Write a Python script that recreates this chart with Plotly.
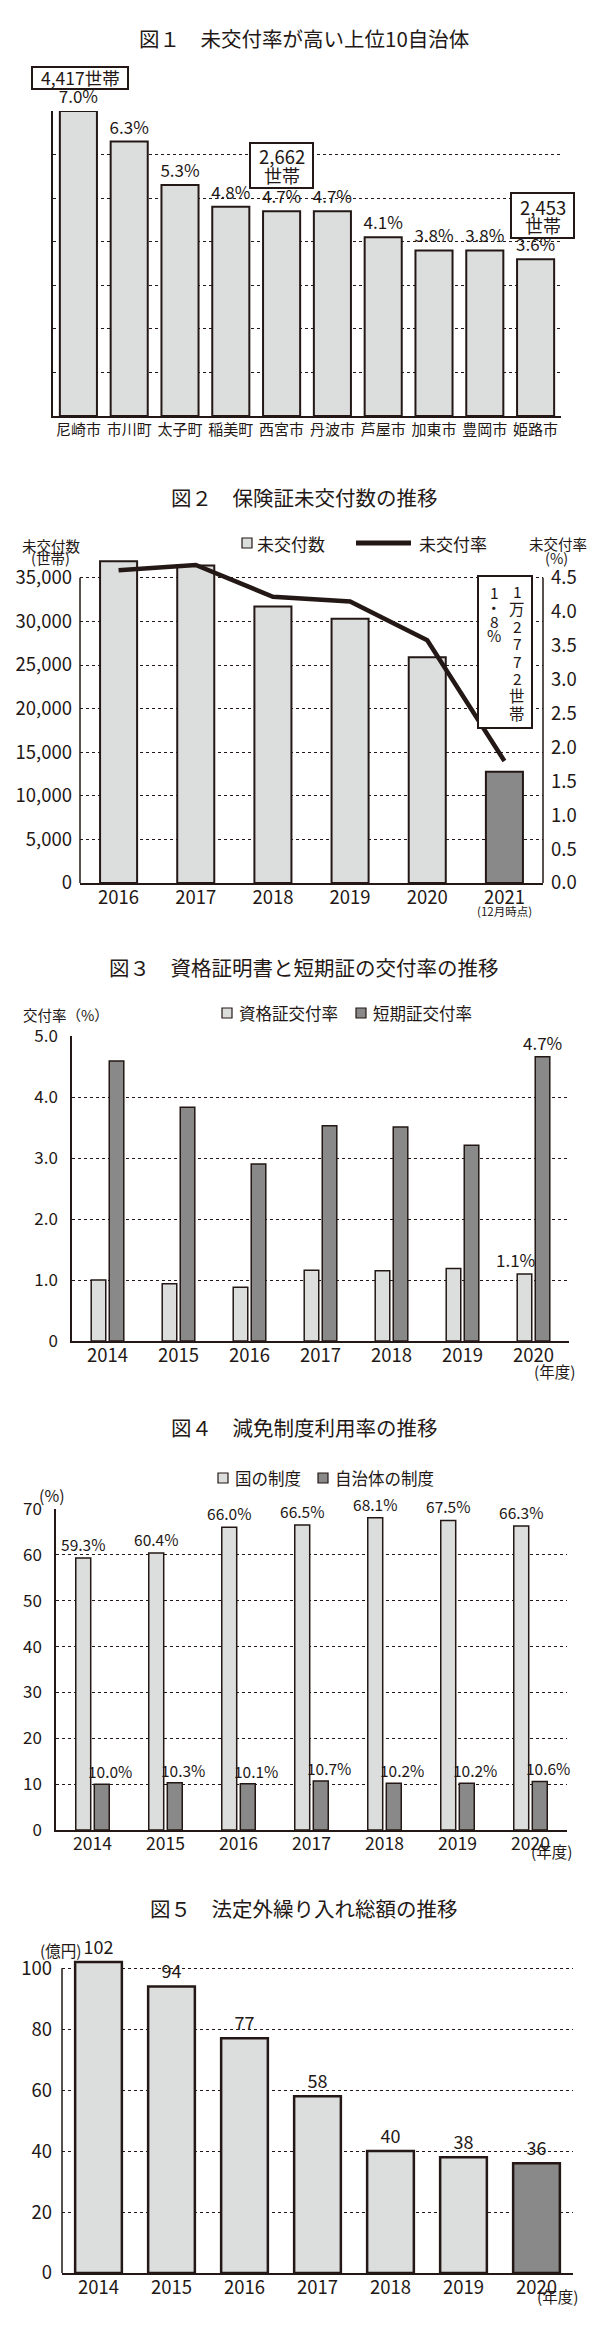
import plotly.graph_objects as go

# page geometry (the browser adds an 8px body margin around the plot div)
PAGE_W, PAGE_H, BODY = 600, 2347, 8
W, H = PAGE_W - 2 * BODY, PAGE_H - 2 * BODY
INK = "#231815"
LIGHT = "#dcdddd"
DARK = "#898989"
FONT = "Noto Sans CJK JP"

# ---------------- data ----------------
titles = [
    "図１　未交付率が高い上位10自治体",
    "図２　保険証未交付数の推移",
    "図３　資格証明書と短期証の交付率の推移",
    "図４　減免制度利用率の推移",
    "図５　法定外繰り入れ総額の推移",
]

c1_cities = ["尼崎市", "市川町", "太子町", "稲美町", "西宮市", "丹波市", "芦屋市", "加東市", "豊岡市", "姫路市"]
c1_rate = [7.0, 6.3, 5.3, 4.8, 4.7, 4.7, 4.1, 3.8, 3.8, 3.6]
c1_callout_cities = ["尼崎市", "西宮市", "姫路市"]
c1_callout_households = [4417, 2662, 2453]

c2_years = ["2016", "2017", "2018", "2019", "2020", "2021"]
c2_unissued = [36900, 36400, 31700, 30300, 25900, 12772]
c2_rate = [4.61, 4.69, 4.22, 4.15, 3.58, 1.8]
c2_left_ticks = [0, 5000, 10000, 15000, 20000, 25000, 30000, 35000]
c2_right_ticks = [0.0, 0.5, 1.0, 1.5, 2.0, 2.5, 3.0, 3.5, 4.0, 4.5]
c2_series = ["未交付数", "未交付率"]

c3_years = ["2014", "2015", "2016", "2017", "2018", "2019", "2020"]
c3_shikaku = [1.0, 0.94, 0.88, 1.16, 1.15, 1.19, 1.1]
c3_tanki = [4.59, 3.83, 2.90, 3.53, 3.51, 3.21, 4.66]
c3_ticks = [0, 1, 2, 3, 4, 5]
c3_ticktext = ["0", "1.0", "2.0", "3.0", "4.0", "5.0"]
c3_series = ["資格証交付率", "短期証交付率"]

c4_years = ["2014", "2015", "2016", "2017", "2018", "2019", "2020"]
c4_kuni = [59.3, 60.4, 66.0, 66.5, 68.1, 67.5, 66.3]
c4_jichi = [10.0, 10.3, 10.1, 10.7, 10.2, 10.2, 10.6]
c4_ticks = [0, 10, 20, 30, 40, 50, 60, 70]
c4_series = ["国の制度", "自治体の制度"]

c5_years = ["2014", "2015", "2016", "2017", "2018", "2019", "2020"]
c5_amount = [102, 94, 77, 58, 40, 38, 36]
c5_ticks = [0, 20, 40, 60, 80, 100]


# ---------------- helpers (page pixel -> paper) ----------------
def px(x):
    return (x - BODY) / W


def py(y):
    return 1 - (y - BODY) / H


GRID = dict(showgrid=True, gridcolor=INK, gridwidth=1, griddash="3px,3px")

fig = go.Figure()

# ---------------- chart 1 ----------------
fig.add_trace(go.Bar(
    x=c1_cities, y=c1_rate, xaxis="x", yaxis="y", width=0.73,
    marker=dict(color=LIGHT, line=dict(color=INK, width=2)),
    text=[f"{v:.1f}%" for v in c1_rate], textposition="outside",
    textfont=dict(size=17, color=INK), constraintext="none", cliponaxis=False,
    showlegend=False, hoverinfo="skip"))

# ---------------- chart 2 ----------------
fig.add_trace(go.Bar(
    x=c2_years, y=c2_unissued, xaxis="x2", yaxis="y2", width=0.48, name=c2_series[0],
    marker=dict(color=[DARK if y == c2_years[-1] else LIGHT for y in c2_years],
                line=dict(color=INK, width=2)),
    showlegend=False, hoverinfo="skip"))
fig.add_trace(go.Scatter(
    x=c2_years, y=c2_rate, xaxis="x2", yaxis="y3", mode="lines", name=c2_series[1],
    line=dict(color=INK, width=4.5), showlegend=False, hoverinfo="skip"))

# ---------------- chart 3 ----------------
bw = 0.205
sep = 0.127
fig.add_trace(go.Bar(
    x=c3_years, y=c3_shikaku, xaxis="x3", yaxis="y4", width=bw, offset=-sep - bw / 2,
    name=c3_series[0], marker=dict(color=LIGHT, line=dict(color=INK, width=1.5)),
    showlegend=False, hoverinfo="skip"))
fig.add_trace(go.Bar(
    x=c3_years, y=c3_tanki, xaxis="x3", yaxis="y4", width=bw, offset=sep - bw / 2,
    name=c3_series[1], marker=dict(color=DARK, line=dict(color=INK, width=1.5)),
    showlegend=False, hoverinfo="skip"))

# ---------------- chart 4 ----------------
fig.add_trace(go.Bar(
    x=c4_years, y=c4_kuni, xaxis="x4", yaxis="y5", width=bw, offset=-sep - bw / 2,
    name=c4_series[0], marker=dict(color=LIGHT, line=dict(color=INK, width=1.5)),
    text=[f"{v:.1f}%" for v in c4_kuni], textposition="outside",
    textfont=dict(size=15.5, color=INK), constraintext="none", cliponaxis=False,
    showlegend=False, hoverinfo="skip"))
fig.add_trace(go.Bar(
    x=c4_years, y=c4_jichi, xaxis="x4", yaxis="y5", width=bw, offset=sep - bw / 2,
    name=c4_series[1], marker=dict(color=DARK, line=dict(color=INK, width=1.5)),
    showlegend=False, hoverinfo="skip"))

# ---------------- chart 5 ----------------
fig.add_trace(go.Bar(
    x=c5_years, y=c5_amount, xaxis="x5", yaxis="y6", width=0.64,
    marker=dict(color=[DARK if y == c5_years[-1] else LIGHT for y in c5_years],
                line=dict(color=INK, width=2.5)),
    text=[str(v) for v in c5_amount], textposition="outside",
    textfont=dict(size=18, color=INK), constraintext="none", cliponaxis=False,
    showlegend=False, hoverinfo="skip"))


# ---------------- axes ----------------
def xax(l, r, anchor, cats, size=18.5, standoff=-3):
    return dict(domain=[px(l), px(r)], anchor=anchor, type="category",
                categoryorder="array", categoryarray=cats,
                range=[-0.5, len(cats) - 0.5], showline=True, tickangle=0,
                linecolor=INK, linewidth=1.5, ticks="", showgrid=False, zeroline=False,
                automargin=False, ticklabelstandoff=standoff,
                tickfont=dict(size=size, color=INK, family=FONT), fixedrange=True)


def tf(size):
    return dict(size=size, color=INK, family=FONT)


layout = dict(
    width=W, height=H, autosize=False,
    margin=dict(l=0, r=0, t=0, b=0, autoexpand=False),
    paper_bgcolor="white", plot_bgcolor="white",
    font=dict(family=FONT, color=INK, size=15),
    barmode="overlay", showlegend=False,
    xaxis=xax(53, 561, "y", c1_cities, 15, -1),
    yaxis=dict(domain=[py(416), py(111)], anchor="x", range=[0, 7], dtick=1,
               showticklabels=False, showline=True, linecolor=INK, linewidth=1.5,
               zeroline=False, ticks="", fixedrange=True, automargin=False, **GRID),
    xaxis2=xax(80, 543, "y2", c2_years),
    yaxis2=dict(domain=[py(883), py(556)], anchor="x2", range=[0, 37500],
                tickvals=c2_left_ticks, tickformat=",", showline=False, zeroline=False,
                ticks="", ticklabelstandoff=7, tickfont=tf(18.5), fixedrange=True,
                automargin=False, **GRID),
    yaxis3=dict(overlaying="y2", side="right", anchor="x2",
                range=[0, 37500 * c2_right_ticks[-1] / c2_left_ticks[-1]],
                tickvals=c2_right_ticks, tickformat=".1f", showgrid=False, showline=False,
                zeroline=False, ticks="", ticklabelstandoff=7, tickfont=tf(18.5),
                fixedrange=True, automargin=False),
    xaxis3=xax(72, 569, "y4", c3_years),
    yaxis4=dict(domain=[py(1341), py(1036)], anchor="x3", range=[0, 5],
                tickvals=c3_ticks, ticktext=c3_ticktext, showgrid=False, showline=True,
                linecolor=INK, linewidth=1.5, zeroline=False, ticks="", ticklabelstandoff=9,
                tickfont=tf(17), fixedrange=True, automargin=False,
                minor=dict(tickvals=c3_ticks[1:-1], showgrid=True, gridcolor=INK,
                           gridwidth=1, griddash="3px,3px", ticks="")),
    xaxis4=xax(56, 567, "y5", c4_years, 17.5),
    yaxis5=dict(domain=[py(1830), py(1509)], anchor="x4", range=[0, 70],
                tickvals=c4_ticks, showline=True, linecolor=INK, linewidth=1.5,
                zeroline=False, ticks="", ticklabelstandoff=9, tickfont=tf(17),
                fixedrange=True, automargin=False, **GRID),
    xaxis5=xax(62, 573, "y6", c5_years),
    yaxis6=dict(domain=[py(2273), py(1959)], anchor="x5", range=[0, 103],
                tickvals=c5_ticks, showline=False, zeroline=False, ticks="",
                ticklabelstandoff=9, tickfont=tf(18.5), fixedrange=True,
                automargin=False, **GRID),
)
fig.update_layout(**layout)

# ---------------- shapes ----------------
shapes = []


def rect(x0, y0, x1, y1, fill="white", lw=2):
    shapes.append(dict(type="rect", xref="paper", yref="paper",
                       x0=px(x0), x1=px(x1), y0=py(y1), y1=py(y0),
                       fillcolor=fill, line=dict(color=INK, width=lw), layer="above"))


# axis lines that stop at the top tick
shapes += [
    dict(type="line", xref="x2 domain", yref="y2", x0=0, x1=0, y0=0, y1=c2_left_ticks[-1],
         line=dict(color=INK, width=1.5)),
    dict(type="line", xref="x2 domain", yref="y2", x0=1, x1=1, y0=0, y1=c2_left_ticks[-1],
         line=dict(color=INK, width=1.5)),
    dict(type="line", xref="x5 domain", yref="y6", x0=0, x1=0, y0=0, y1=c5_ticks[-1],
         line=dict(color=INK, width=1.5)),
]
# chart 1 callout boxes
box1 = [(32, 67, 128, 89), (250, 143, 313, 188), (511, 193, 574, 238)]
for b in box1:
    rect(*b)
# chart 2 vertical callout box
rect(478, 576, 532, 728)
# legend keys
rect(242, 538, 252, 548, LIGHT, 1.2)
shapes.append(dict(type="line", xref="paper", yref="paper", x0=px(356), x1=px(411),
                   y0=py(543), y1=py(543), line=dict(color=INK, width=5)))
rect(222, 1008, 232, 1018, LIGHT, 1.2)
rect(356, 1008, 366, 1018, DARK, 1.2)
rect(218, 1473, 228, 1483, LIGHT, 1.2)
rect(318, 1473, 328, 1483, DARK, 1.2)
fig.update_layout(shapes=shapes)

# ---------------- annotations ----------------
ann = []


def T(text, x, y, size, xanchor="center", yanchor="middle"):
    ann.append(dict(text=text, x=px(x), y=py(y), xref="paper", yref="paper",
                    xanchor=xanchor, yanchor=yanchor, showarrow=False,
                    font=dict(size=size, color=INK)))


title_y = [38, 497, 967, 1427, 1908]
for t, y in zip(titles, title_y):
    T(t, 304, y, 20.5)

# chart 1 callouts
for (x0, y0, x1, y1), hh in zip(box1, c1_callout_households):
    cx = (x0 + x1) / 2
    if y1 - y0 < 30:
        T(f"{hh:,}世帯", cx, (y0 + y1) / 2, 17.5)
    else:
        T(f"{hh:,}", cx, y0 + 13.5, 18.5)
        T("世帯", cx, y0 + 32, 18)

# chart 2 axis titles, legend, vertical callout text
T("未交付数", 51, 545, 14.5)
T("(世帯)", 50, 558, 14.5)
T("未交付率", 558, 544, 14.5)
T("(%)", 556, 558, 14.5)
T(c2_series[0], 255, 543, 17, xanchor="left")
T(c2_series[1], 417, 543, 17, xanchor="left")
ann.append(dict(text="(12月時点)", x=len(c2_years) - 1, y=py(911), xref="x2", yref="paper",
                showarrow=False, font=dict(size=11.5, color=INK)))
n = c2_unissued[-1]
col_count = f"{n // 10000}万{n % 10000}世帯"
col_rate = f"{c2_rate[-1]:.1f}".replace(".", "・") + "%"
for k, ch in enumerate(col_count):
    T(ch, 517, 591 + k * 17.4, 15.5)
for k, ch in enumerate(col_rate):
    T(ch, 494, 592 + k * 14.5, 15.5)

# chart 3
T("交付率（%）", 66, 1014, 14.5)
T(c3_series[0], 237, 1013, 16.5, xanchor="left")
T(c3_series[1], 371, 1013, 16.5, xanchor="left")
last = len(c3_years) - 1
ann.append(dict(text="(年度)", x=last, y=py(1371), xref="x3", yref="paper", xshift=21,
                showarrow=False, font=dict(size=15.5, color=INK)))
ann.append(dict(text=f"{c3_shikaku[-1]:.1f}%", x=last, y=c3_shikaku[-1], xref="x3", yref="y4",
                xanchor="center", yanchor="bottom", xshift=-18, showarrow=False,
                font=dict(size=17, color=INK)))
ann.append(dict(text=f"{c3_tanki[-1]:.1f}%", x=last, y=c3_tanki[-1], xref="x3", yref="y4",
                xanchor="center", yanchor="bottom", xshift=9, showarrow=False,
                font=dict(size=17, color=INK)))

# chart 4
T("(%)", 52, 1495, 16)
T(c4_series[0], 233, 1478, 16.5, xanchor="left")
T(c4_series[1], 333, 1478, 16.5, xanchor="left")
ann.append(dict(text="(年度)", x=len(c4_years) - 1, y=py(1864), xref="x4", yref="paper",
                xshift=21, showarrow=False, font=dict(size=15.5, color=INK)))
for i, v in enumerate(c4_jichi):
    ann.append(dict(text=f"{v:.1f}%", x=i, y=v, xref="x4", yref="y5",
                    xanchor="center", yanchor="bottom", xshift=17, showarrow=False,
                    font=dict(size=15.5, color=INK)))

# chart 5
T("(億円)", 60, 1950, 15.5)
ann.append(dict(text="(年度)", x=len(c5_years) - 1, y=py(2309), xref="x5", yref="paper",
                xshift=21, showarrow=False, font=dict(size=15.5, color=INK)))
fig.update_layout(annotations=ann)

fig.write_html("out.html")
